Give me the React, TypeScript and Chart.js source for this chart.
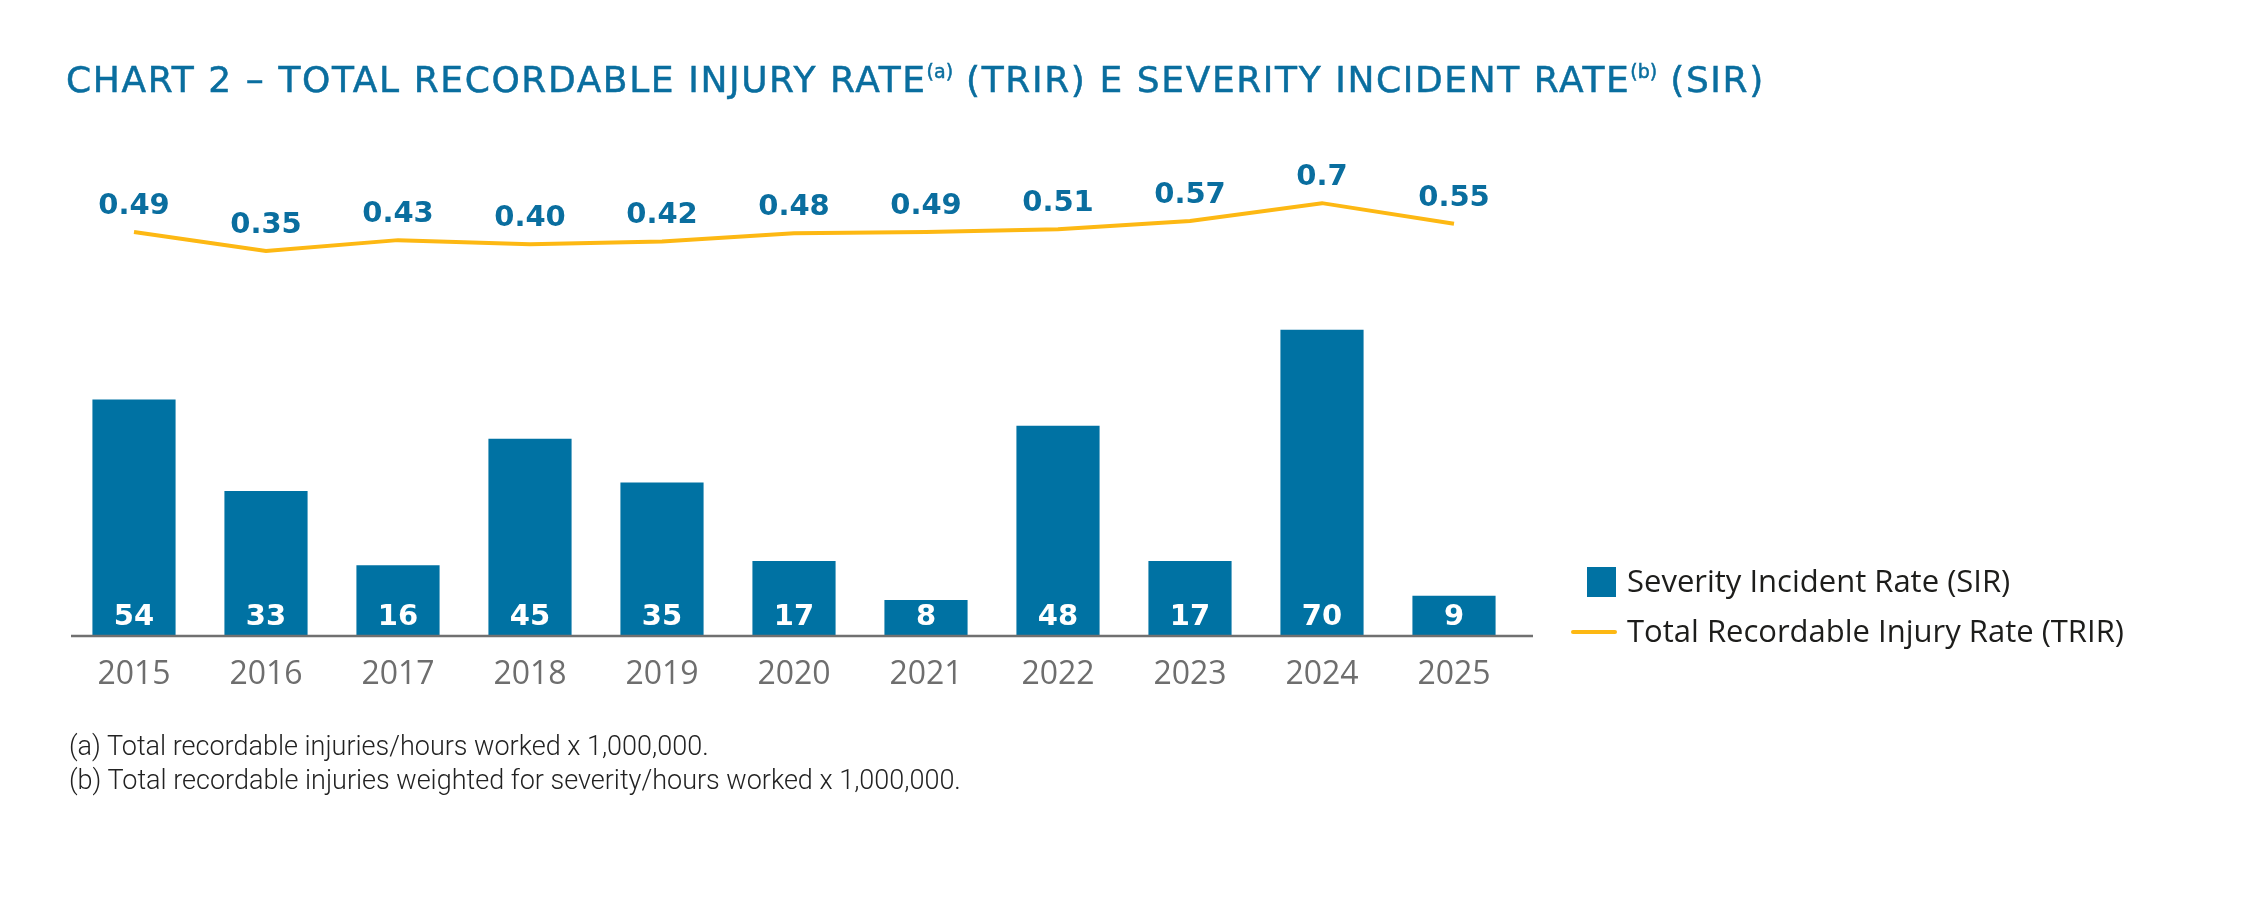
import React, { useEffect, useRef } from "react";
import { Chart, registerables } from "chart.js";

Chart.register(...registerables);

// ---- data ----
const years = ["2015", "2016", "2017", "2018", "2019", "2020", "2021", "2022", "2023", "2024", "2025"];
const sirValues = [54, 33, 16, 45, 35, 17, 8, 48, 17, 70, 9];
const trirValues = [0.49, 0.35, 0.43, 0.4, 0.42, 0.48, 0.49, 0.51, 0.57, 0.7, 0.55];
const trirLabels = ["0.49", "0.35", "0.43", "0.40", "0.42", "0.48", "0.49", "0.51", "0.57", "0.7", "0.55"];
const sirLabels = ["54", "33", "16", "45", "35", "17", "8", "48", "17", "70", "9"];
const seriesNames = ["Severity Incident Rate (SIR)", "Total Recordable Injury Rate (TRIR)"];

const BAR_BLUE = "#0072a3";
const LABEL_BLUE = "#0a6e9f";
const YELLOW = "#fdb813";
const AXIS_GRAY = "#707070";
const TICK_GRAY = "#6e6e6e";

const valueLabels = {
  id: "valueLabels",
  afterDatasetsDraw(chart: any) {
    const ctx = chart.ctx;
    const area = chart.chartArea;
    ctx.save();
    // baseline axis line, running slightly past the last category like the original
    ctx.strokeStyle = AXIS_GRAY;
    ctx.lineWidth = 2.5;
    ctx.beginPath();
    ctx.moveTo(area.left + 3, area.bottom + 1);
    ctx.lineTo(area.right + 13, area.bottom + 1);
    ctx.stroke();

    ctx.textAlign = "center";
    ctx.textBaseline = "alphabetic";
    ctx.font = "bold 29px 'DejaVu Sans'";
    const barMeta = chart.getDatasetMeta(0);
    barMeta.data.forEach((el: any, i: number) => {
      ctx.fillStyle = "#ffffff";
      ctx.fillText(sirLabels[i], el.x, el.base - 10);
    });
    const lineMeta = chart.getDatasetMeta(1);
    lineMeta.data.forEach((el: any, i: number) => {
      ctx.fillStyle = LABEL_BLUE;
      ctx.fillText(trirLabels[i], el.x, el.y - 18);
    });
    ctx.restore();
  },
};

export default function App() {
  const canvasRef = useRef<HTMLCanvasElement | null>(null);

  useEffect(() => {
    if (!canvasRef.current) return;
    const chart = new Chart(canvasRef.current, {
      type: "bar",
      data: {
        labels: years,
        datasets: [
          {
            type: "bar",
            label: seriesNames[0],
            data: sirValues,
            backgroundColor: BAR_BLUE,
            borderWidth: 0,
            barPercentage: 0.63,
            categoryPercentage: 1,
            yAxisID: "y",
            order: 2,
          },
          {
            type: "line",
            label: seriesNames[1],
            data: trirValues,
            borderColor: YELLOW,
            borderWidth: 4,
            pointRadius: 0,
            tension: 0,
            fill: false,
            yAxisID: "y1",
            order: 1,
          } as any,
        ],
      },
      options: {
        responsive: false,
        animation: false,
        devicePixelRatio: 1,
        layout: { padding: { left: 68, right: 730, top: 180, bottom: 0 } },
        plugins: {
          legend: { display: false },
          title: { display: false },
          tooltip: { enabled: false },
        },
        scales: {
          x: {
            type: "category",
            offset: true,
            grid: { display: false, drawTicks: false },
            border: { display: false },
            ticks: {
              color: TICK_GRAY,
              font: { family: "'Open Sans'", size: 32 },
              padding: 21,
              maxRotation: 0,
            },
            afterFit: (scale: any) => {
              scale.height = 265;
            },
          },
          y: {
            display: false,
            min: 0,
            max: 104.36,
          },
          y1: {
            display: false,
            min: -2.453,
            max: 0.869,
          },
        },
      },
      plugins: [valueLabels],
    });
    return () => chart.destroy();
  }, []);

  const supStyle: React.CSSProperties = { fontSize: 19, position: "relative", top: -14, letterSpacing: 0 };

  return (
    <div
      style={{
        position: "absolute",
        left: 0,
        top: 0,
        width: 2250,
        height: 900,
        background: "#ffffff",
        overflow: "hidden",
      }}
    >
      <canvas
        ref={canvasRef}
        width={2250}
        height={900}
        style={{ position: "absolute", left: 0, top: 0, width: 2250, height: 900 }}
      />
      <div
        style={{
          position: "absolute",
          left: 66,
          top: 62,
          fontFamily: "'DejaVu Sans', sans-serif",
          fontSize: 36,
          lineHeight: "36px",
          letterSpacing: "1.6px",
          color: LABEL_BLUE,
          WebkitTextStroke: "0.5px " + LABEL_BLUE,
          whiteSpace: "nowrap",
        }}
      >
        CHART 2 – TOTAL RECORDABLE INJURY RATE<span style={supStyle}>(a)</span> (TRIR) E SEVERITY INCIDENT RATE
        <span style={supStyle}>(b)</span> (SIR)
      </div>

      <div
        style={{
          position: "absolute",
          left: 1587,
          top: 567,
          width: 29,
          height: 30,
          background: BAR_BLUE,
        }}
      />
      <div
        style={{
          position: "absolute",
          left: 1627,
          top: 565,
          fontFamily: "'Open Sans', sans-serif",
          fontSize: 31,
          lineHeight: "31px",
          color: "#1d1d1b",
          whiteSpace: "nowrap",
        }}
      >
        {seriesNames[0]}
      </div>
      <div
        style={{
          position: "absolute",
          left: 1571,
          top: 630,
          width: 46,
          height: 4,
          borderRadius: 2,
          background: YELLOW,
        }}
      />
      <div
        style={{
          position: "absolute",
          left: 1627,
          top: 615,
          fontFamily: "'Open Sans', sans-serif",
          fontSize: 31,
          lineHeight: "31px",
          color: "#1d1d1b",
          whiteSpace: "nowrap",
        }}
      >
        {seriesNames[1]}
      </div>

      <div
        style={{
          position: "absolute",
          left: 69,
          top: 729,
          fontFamily: "Roboto, sans-serif",
          fontWeight: 300,
          fontSize: 27,
          lineHeight: "34px",
          color: "#222222",
          whiteSpace: "nowrap",
        }}
      >
        <div>(a) Total recordable injuries/hours worked x 1,000,000.</div>
        <div>(b) Total recordable injuries weighted for severity/hours worked x 1,000,000.</div>
      </div>
    </div>
  );
}
